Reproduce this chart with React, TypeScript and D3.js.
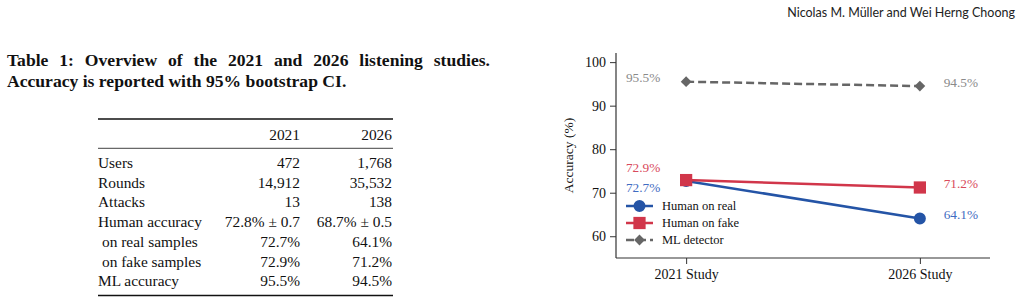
import React, { useRef, useEffect } from "react";
import * as d3 from "d3";

// study labels and series values (accuracy in %)
const studies = ["2021 Study", "2026 Study"];
const humanReal = [72.7, 64.1];
const humanFake = [72.9, 71.2];
const mlDetector = [95.5, 94.5];
const yTicks = [60, 70, 80, 90, 100];

// table contents
const tableHeader = ["", "2021", "2026"];
const tableRows = [
  ["Users", "472", "1,768"],
  ["Rounds", "14,912", "35,532"],
  ["Attacks", "13", "138"],
  ["Human accuracy", "72.8% ± 0.7", "68.7% ± 0.5"],
  [" on real samples", "72.7%", "64.1%"],
  [" on fake samples", "72.9%", "71.2%"],
  ["ML accuracy", "95.5%", "94.5%"],
];
const captionLines = [
  "Table 1: Overview of the 2021 and 2026 listening studies.",
  "Accuracy is reported with 95% bootstrap CI.",
];
const runningHead = "Nicolas M. Müller and Wei Herng Choong";

const serif = "'Liberation Serif', 'Times New Roman', serif";

const App = () => {
  const svgRef = useRef<SVGSVGElement>(null);

  useEffect(() => {
    document.body.style.margin = "0";
    const W = 1023,
      H = 304;

    d3.select(svgRef.current).selectAll("*").remove();
    const svg = d3
      .select(svgRef.current)
      .attr("width", W)
      .attr("height", H)
      .style("display", "block")
      .style("background", "#fff");

    // running head
    svg
      .append("text")
      .attr("x", 1015)
      .attr("y", 17)
      .attr("text-anchor", "end")
      .style("font-family", "Lato, 'Open Sans', sans-serif")
      .style("font-size", "12.5px")
      .style("fill", "#222")
      .text(runningHead);

    // caption, first line justified by widening the word gaps
    const cap = svg
      .selectAll(".cap")
      .data(captionLines)
      .enter()
      .append("text")
      .attr("class", "cap")
      .attr("x", 7)
      .attr("y", (d, i) => 66 + i * 20.5)
      .style("font-family", serif)
      .style("font-weight", "bold")
      .style("font-size", "17.6px")
      .style("fill", "#111")
      .text((d) => d);
    const first = cap.nodes()[0] as SVGTextElement;
    const gaps = captionLines[0].split(" ").length - 1;
    const extra = (483 - first.getComputedTextLength()) / gaps;
    if (extra > 0) d3.select(first).style("word-spacing", `${extra}px`);

    // table
    const tLeft = 98,
      tRight = 393,
      col1 = 300,
      col2 = 392;
    const tbl = svg.append("g").style("font-family", serif).style("font-size", "15.4px").style("fill", "#111");
    [
      [119, 1.4],
      [148.3, 0.8],
      [295.5, 1.4],
    ].forEach(([y, w]) => {
      tbl
        .append("line")
        .attr("x1", tLeft)
        .attr("x2", tRight)
        .attr("y1", y)
        .attr("y2", y)
        .attr("stroke", "#111")
        .attr("stroke-width", w);
    });
    const rowY = (i: number) => 168 + i * 19.7;
    const allRows = [tableHeader, ...tableRows];
    allRows.forEach((row, r) => {
      const y = r === 0 ? 140 : rowY(r - 1);
      const label = row[0];
      tbl
        .append("text")
        .attr("x", label.startsWith(" ") ? tLeft + 4 : tLeft)
        .attr("y", y)
        .text(label.trim());
      tbl.append("text").attr("x", col1).attr("y", y).attr("text-anchor", "end").text(row[1]);
      tbl.append("text").attr("x", col2).attr("y", y).attr("text-anchor", "end").text(row[2]);
    });

    // chart
    const plot = { left: 616, right: 990, top: 53, bottom: 258 };
    const x = d3.scalePoint().domain(studies).range([plot.left, plot.right]).padding(0.3);
    const y = d3.scaleLinear().domain([55, 102.1]).range([plot.bottom, plot.top]);

    const chart = svg.append("g").style("font-family", serif);

    const yAxis = chart
      .append("g")
      .attr("transform", `translate(${plot.left},0)`)
      .call(d3.axisLeft(y).tickValues(yTicks).tickSize(6).tickPadding(4));
    const xAxis = chart
      .append("g")
      .attr("transform", `translate(0,${plot.bottom})`)
      .call(d3.axisBottom(x).tickSize(6).tickPadding(5));
    [yAxis, xAxis].forEach((ax) => {
      ax.select(".domain").attr("stroke", "#333").attr("stroke-width", 1.2);
      ax.selectAll(".tick line").attr("stroke", "#333").attr("stroke-width", 1);
      ax.selectAll(".tick text")
        .style("font-family", serif)
        .style("font-size", "14px")
        .style("fill", "#111");
    });
    xAxis.select(".domain").attr("d", `M${plot.left},0H${plot.right}`);
    yAxis.select(".domain").attr("d", `M0,${plot.top}V${plot.bottom}`);

    chart
      .append("text")
      .attr("transform", `translate(573,${(plot.top + plot.bottom) / 2}) rotate(-90)`)
      .attr("text-anchor", "middle")
      .style("font-size", "13.5px")
      .style("fill", "#111")
      .text("Accuracy (%)");

    const series = [
      { name: "Human on real", values: humanReal, color: "#2454a6", marker: "circle", dash: null, labelColor: "#3f6cc2", dy: [6, -4] },
      { name: "Human on fake", values: humanFake, color: "#d1364a", marker: "square", dash: null, labelColor: "#d94a5c", dy: [-13, -4] },
      { name: "ML detector", values: mlDetector, color: "#666666", marker: "diamond", dash: "8,4", labelColor: "#8a8a8a", dy: [-4, -4] },
    ];
    // matplotlib-like markers; the diamond is a square turned 45 degrees
    const symbolFor = (m: string) =>
      m === "circle"
        ? d3.symbol(d3.symbolCircle, 113)()
        : m === "square"
        ? d3.symbol(d3.symbolSquare, 150)()
        : d3.symbol(d3.symbolSquare, 58)();
    const rot = (m: string) => (m === "diamond" ? " rotate(45)" : "");

    const line = d3
      .line<number>()
      .x((d, i) => x(studies[i]) as number)
      .y((d) => y(d));

    // ML on bottom layer, then real, then fake
    [series[2], series[0], series[1]].forEach((s) => {
      chart
        .append("path")
        .attr("d", line(s.values))
        .attr("fill", "none")
        .attr("stroke", s.color)
        .attr("stroke-width", 2.5)
        .attr("stroke-dasharray", s.dash);
      chart
        .selectAll(null)
        .data(s.values)
        .enter()
        .append("path")
        .attr("transform", (d, i) => `translate(${x(studies[i])},${y(d)})${rot(s.marker)}`)
        .attr("d", symbolFor(s.marker))
        .attr("fill", s.color);
      chart
        .selectAll(null)
        .data(s.values)
        .enter()
        .append("text")
        .attr("x", (d, i) => (x(studies[i]) as number) + (i === 0 ? -43 : 41))
        .attr("y", (d, i) => y(d) + s.dy[i])
        .attr("dy", "0.35em")
        .attr("text-anchor", "middle")
        .style("font-size", "13.3px")
        .style("fill", s.labelColor)
        .text((d) => `${d.toFixed(1)}%`);
    });

    // legend
    const legend = chart.append("g").attr("transform", "translate(626,206)");
    series.forEach((s, i) => {
      const g = legend.append("g").attr("transform", `translate(0,${i * 17})`);
      g.append("line")
        .attr("x1", 0)
        .attr("x2", 27)
        .attr("stroke", s.color)
        .attr("stroke-width", 2.5)
        .attr("stroke-dasharray", s.dash);
      g.append("path")
        .attr("transform", `translate(13.5,0)${rot(s.marker)}`)
        .attr("d", symbolFor(s.marker))
        .attr("fill", s.color);
      g.append("text")
        .attr("x", 36)
        .attr("dy", "0.35em")
        .style("font-size", "12.5px")
        .style("fill", "#111")
        .text(s.name);
    });
  }, []);

  return <svg ref={svgRef}></svg>;
};

export default App;
